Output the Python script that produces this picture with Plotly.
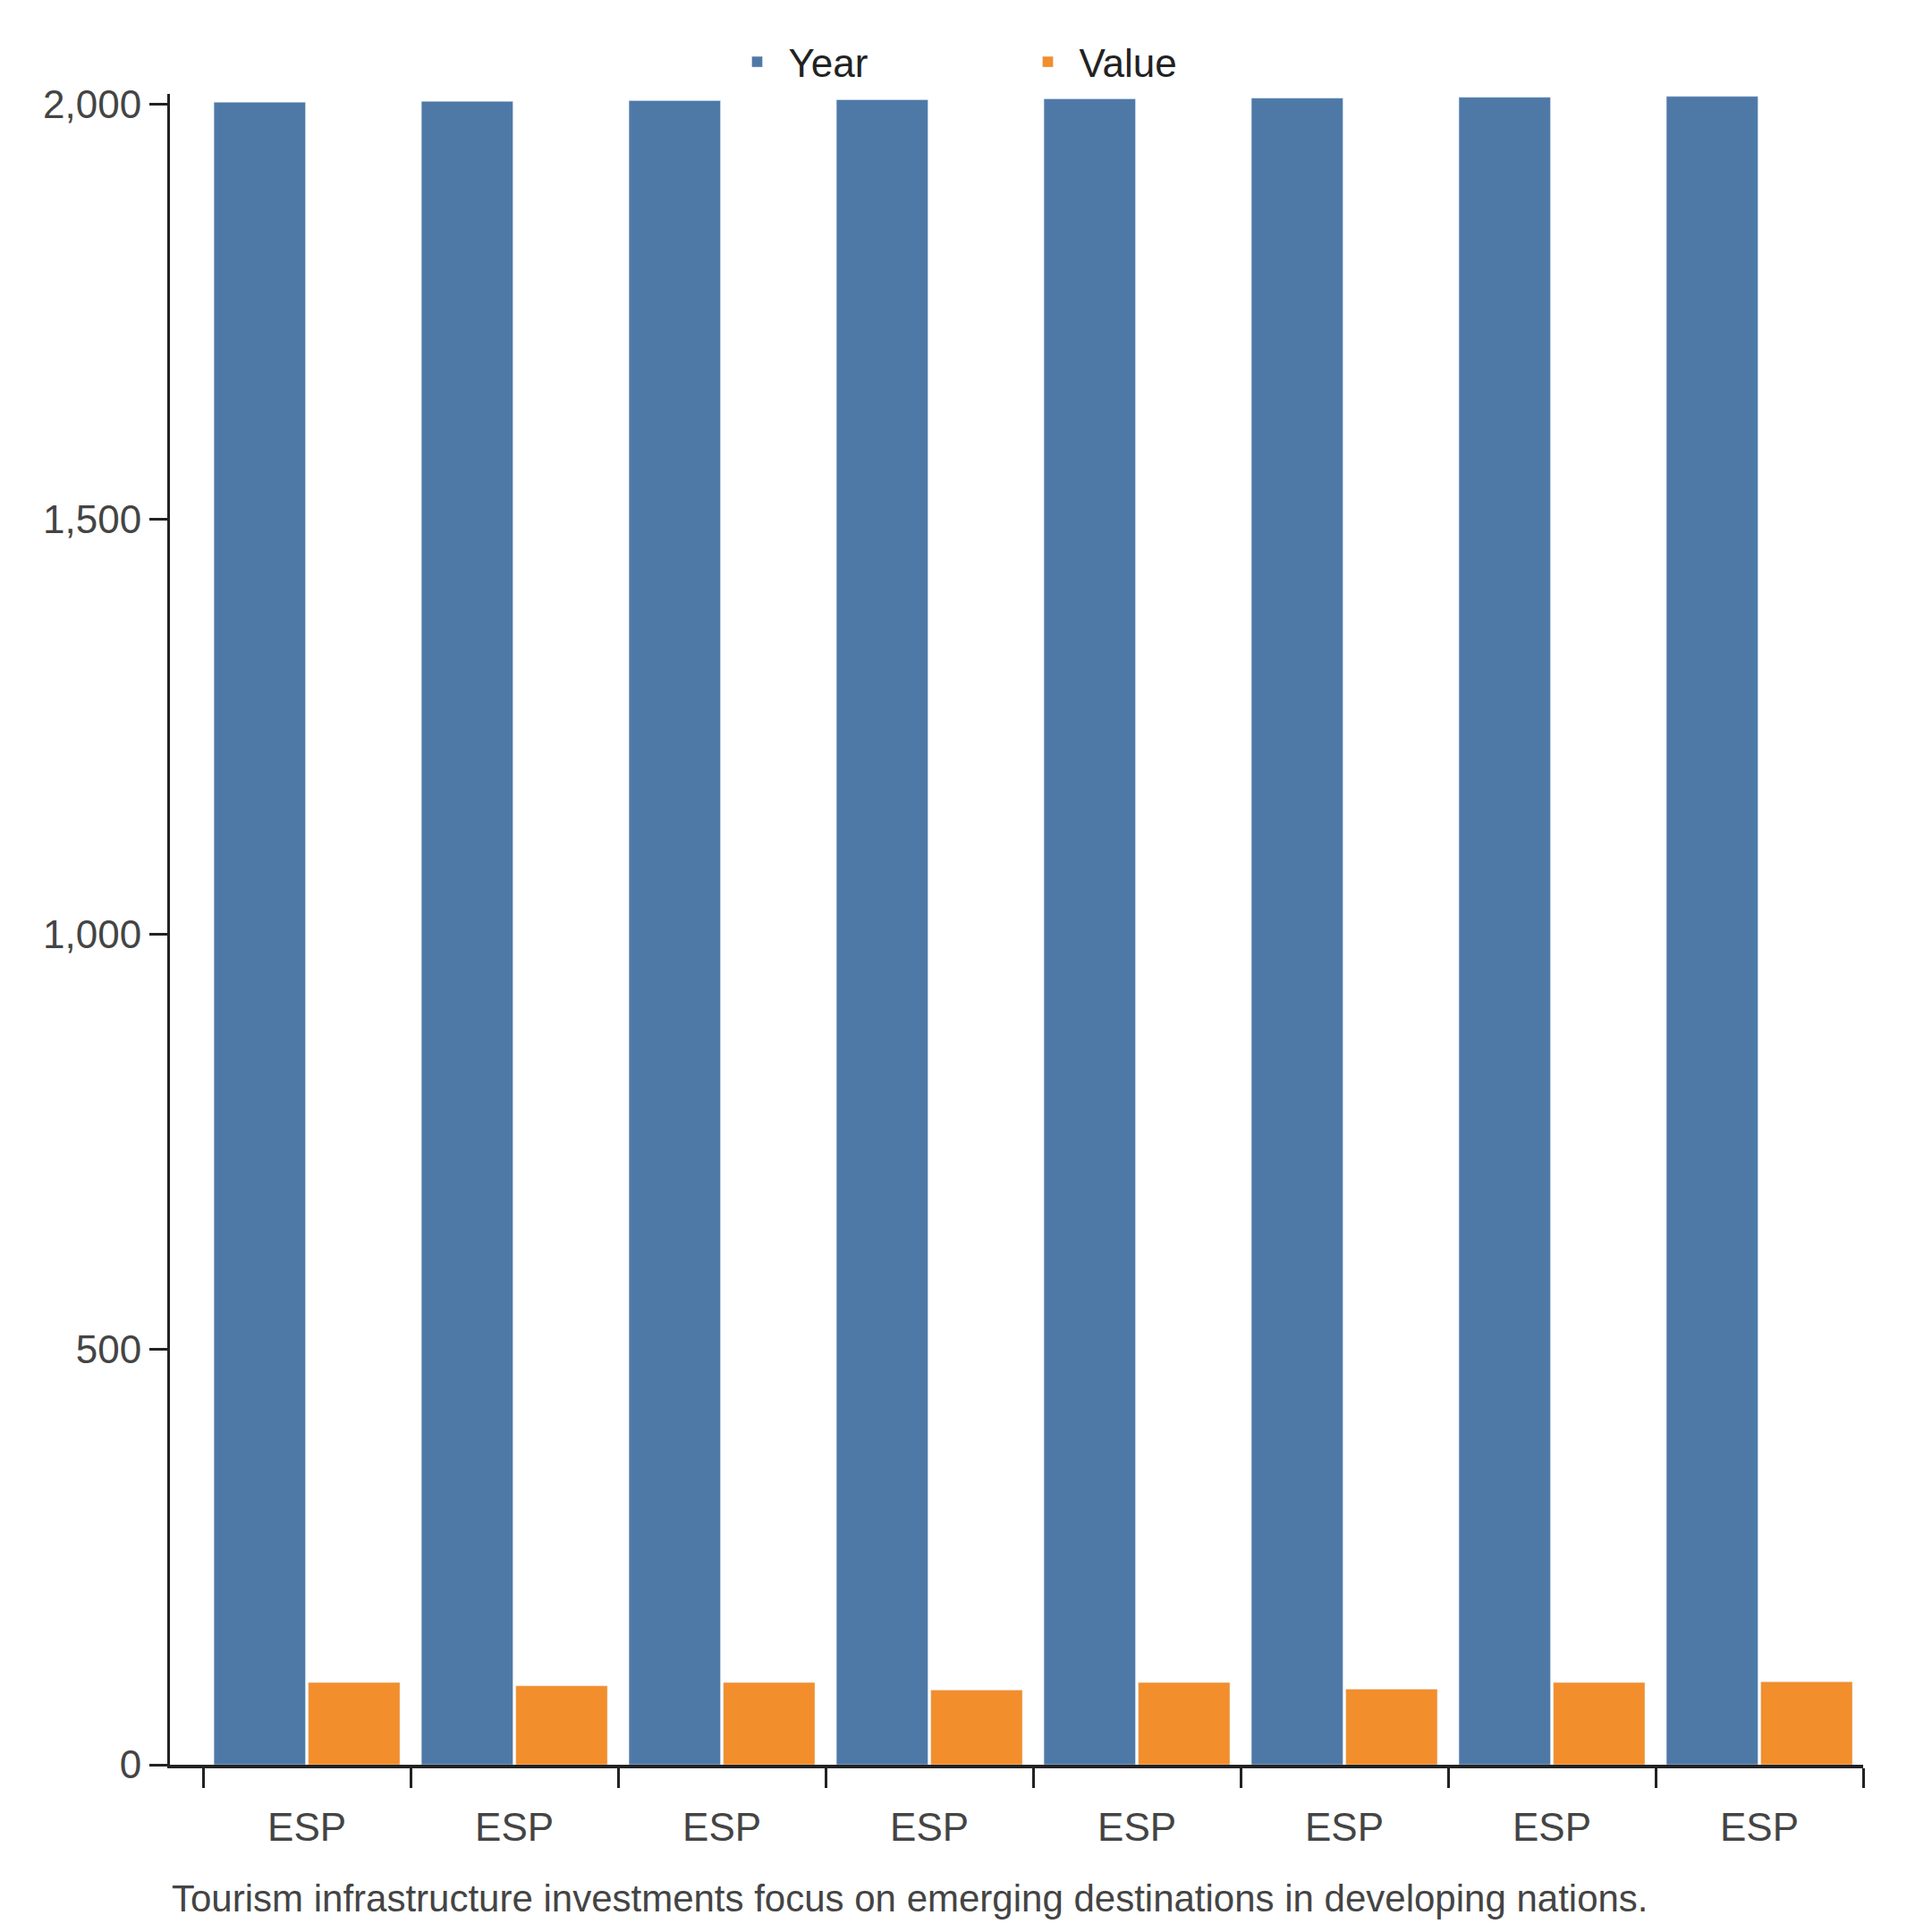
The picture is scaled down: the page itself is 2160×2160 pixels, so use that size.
import plotly.graph_objects as go

categories = ["ESP"] * 8
year = [2002, 2003, 2004, 2005, 2006, 2007, 2008, 2009]
value = [99, 95, 99, 90, 99, 91, 99, 100]
xs = list(range(len(categories)))

fig = go.Figure()
fig.add_bar(x=xs, y=year, name="Year", marker_color="#4e79a7")
fig.add_bar(x=xs, y=value, name="Value", marker_color="#f28e2b")

font = "Liberation Sans, Arial, sans-serif"
fig.update_layout(
    width=2160, height=2160, barmode="group", bargap=0.09, bargroupgap=0.03,
    plot_bgcolor="white", paper_bgcolor="white",
    font=dict(family=font, size=44, color="#444"),
    margin=dict(l=182, r=85, t=97, b=195),
    legend=dict(orientation="h", x=0.5, xanchor="center", y=1.0, yanchor="bottom",
                font=dict(size=44, color="#222"), itemwidth=60,
                entrywidth=250, entrywidthmode="pixels"),
    xaxis=dict(tickvals=xs, ticktext=categories, range=[-0.66, 7.5], ticks="",
               showline=True, linecolor="#222", linewidth=4, showgrid=False,
               minor=dict(ticks="outside", ticklen=22, tickwidth=3, tickcolor="#222",
                          tick0=-0.5, dtick=1, showgrid=False),
               tickfont=dict(size=44, color="#444"), ticklabelstandoff=28),
    yaxis=dict(range=[0, 2012], tickvals=[0, 500, 1000, 1500, 2000],
               tickformat=",", ticks="outside", ticklen=20, tickwidth=3, tickcolor="#222",
               showline=True, linecolor="#222", linewidth=3, showgrid=False, zeroline=False,
               tickfont=dict(size=44, color="#444")),
    annotations=[dict(text="Tourism infrastructure investments focus on emerging destinations in developing nations.",
                      x=0, xref="paper", xanchor="left", y=-0.08, yref="paper", yanchor="middle",
                      showarrow=False, font=dict(size=42, color="#444"))],
)
fig.write_html("out.html")
